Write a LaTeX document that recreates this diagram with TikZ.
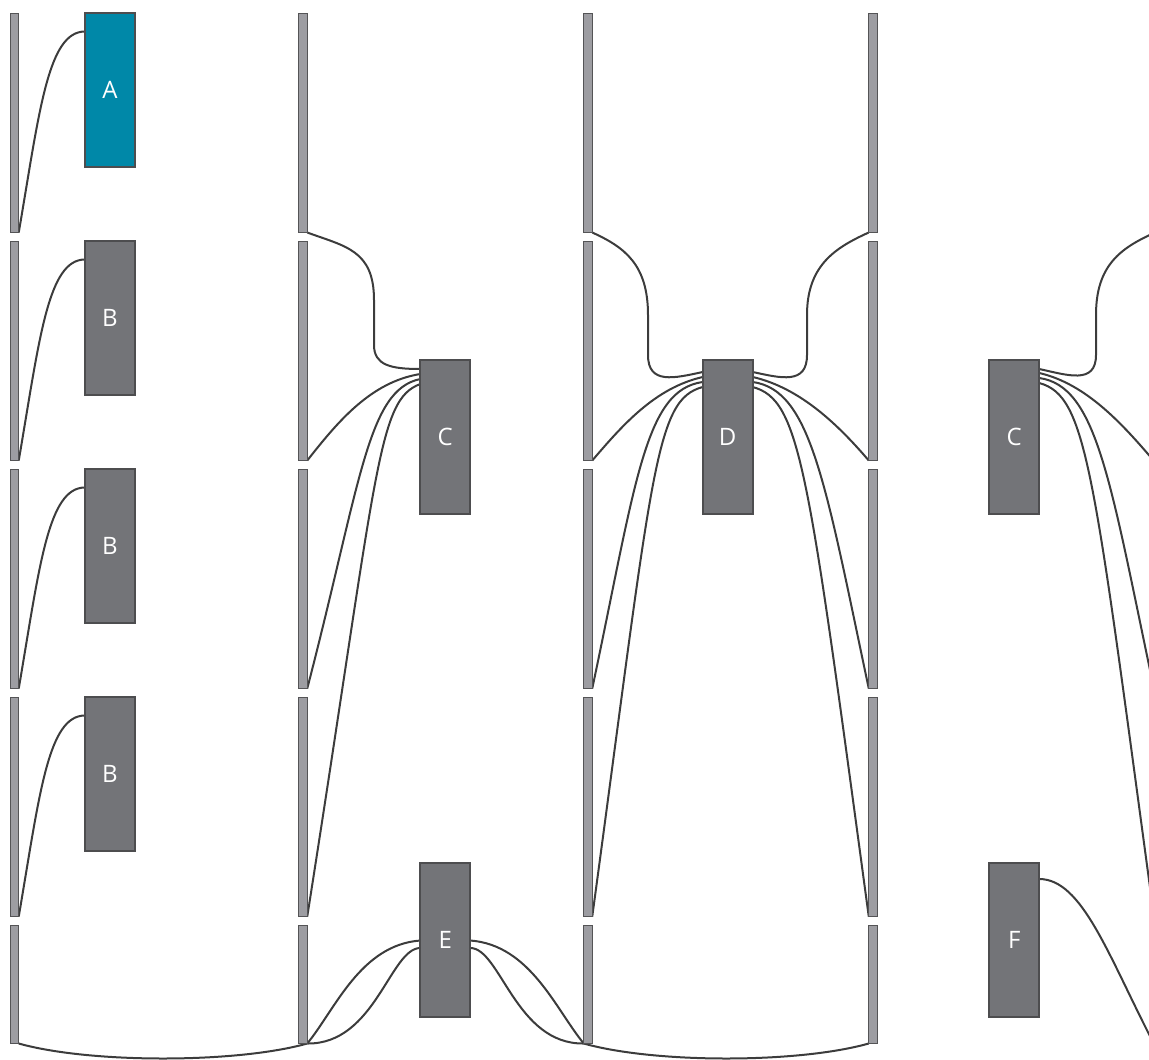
\documentclass[tikz,border=0pt]{standalone}
\usepackage{fontspec}
\setmainfont{Open Sans}
\pgfdeclarelayer{bg}
\pgfsetlayers{bg,main}
\definecolor{blockfill}{HTML}{737478}
\definecolor{blockline}{HTML}{4D4D4F}
\definecolor{accentA}{HTML}{0088A8}
\definecolor{barfill}{HTML}{9D9DA2}
\definecolor{barline}{HTML}{545456}
\definecolor{linkcol}{HTML}{3C3C3C}
\begin{document}
\begin{tikzpicture}[x=1pt,y=-1pt,
  bar/.style={draw=barline, fill=barfill, line width=1.3pt, minimum width=8.5pt, minimum height=219pt, inner sep=0pt, outer sep=0pt},
  lowbar/.style={bar, minimum height=118pt},
  blk/.style={draw=blockline, fill=blockfill, line width=2pt, minimum width=50pt, minimum height=154pt, inner sep=0pt, outer sep=0pt, text=white, font=\fontsize{24}{28}\selectfont},
  link/.style={draw=linkcol, line width=2pt}]
\useasboundingbox (0,0) rectangle (1149,1060);
\clip (0,0) rectangle (1149,1060);
% bars
\foreach \c/\x in {1/14.5, 2/303, 3/588, 4/873}{
  \node[bar] (b\c1) at (\x,123) {};
  \node[bar] (b\c2) at (\x,351) {};
  \node[bar] (b\c3) at (\x,579) {};
  \node[bar] (b\c4) at (\x,807) {};
  \node[lowbar] (b\c5) at (\x,984.5) {};
}
\coordinate (p51) at (1154,233);
\coordinate (p52) at (1154,461);
\coordinate (p53) at (1154,689);
\coordinate (p54) at (1154,917);
\coordinate (p55) at (1154,1044);
% blocks
\node[blk, fill=accentA] (A) at (110,89.5) {A};
\node[blk] (B1) at (110,317.5) {B};
\node[blk] (B2) at (110,545.5) {B};
\node[blk] (B3) at (110,773.5) {B};
\node[blk] (C) at (445.3,437) {C};
\node[blk] (D) at (727.7,437) {D};
\node[blk] (C2) at (1014.2,437) {C};
\node[blk] (E) at (445.3,939.5) {E};
\node[blk] (F) at (1014.2,939.5) {F};
\begin{pgfonlayer}{bg}
% column 1
\draw[link] (b11.south east) .. controls +(21,-123) and +(-37,0) .. ([yshift=58pt]A.west);
\draw[link] (b12.south east) .. controls +(21,-123) and +(-37,0) .. ([yshift=58pt]B1.west);
\draw[link] (b13.south east) .. controls +(21,-123) and +(-37,0) .. ([yshift=58pt]B2.west);
\draw[link] (b14.south east) .. controls +(21,-123) and +(-37,0) .. ([yshift=58pt]B3.west);
% bottom arcs
\draw[link] (b15.south east) .. controls +(71,20) and +(-71,20) .. (b25.south east);
\draw[link] (b35.south west) .. controls +(71,20) and +(-71,20) .. (b45.south west);
% C left
\draw[link] (b21.south east) .. controls +(38,14) and +(0,-50) .. (374,300) -- (374,345) .. controls +(0,20) and +(-30,0) .. ([yshift=68pt]C.west);
\draw[link] (b22.south east) .. controls +(30,-38) and +(-50,8) .. ([yshift=63pt]C.west);
\draw[link] (b23.south east) .. controls +(54,-208) and +(-53,11) .. ([yshift=58pt]C.west);
\draw[link] (b24.south east) .. controls +(71,-450) and +(-43,16) .. ([yshift=53pt]C.west);
% D left
\draw[link] (b31.south east) .. controls +(33,15) and +(0,-50) .. (648,315) -- (648,355) .. controls +(0,30) and +(-28,6) .. ([yshift=65pt]D.west);
\draw[link] (b32.south east) .. controls +(30,-35) and +(-48,11) .. ([yshift=60pt]D.west);
\draw[link] (b33.south east) .. controls +(44,-208) and +(-58,8) .. ([yshift=55pt]D.west);
\draw[link] (b34.south east) .. controls +(61,-450) and +(-48,13) .. ([yshift=50pt]D.west);
% D right
\draw[link] ([yshift=65pt]D.east) .. controls +(28,6) and +(0,30) .. (807,355) -- (807,315) .. controls +(0,-50) and +(-33,15) .. (b41.south west);
\draw[link] ([yshift=60pt]D.east) .. controls +(48,11) and +(-30,-35) .. (b42.south west);
\draw[link] ([yshift=55pt]D.east) .. controls +(58,8) and +(-44,-208) .. (b43.south west);
\draw[link] ([yshift=50pt]D.east) .. controls +(48,13) and +(-61,-450) .. (b44.south west);
% C2 right
\draw[link] ([yshift=68pt]C2.east) .. controls +(28,6) and +(0,30) .. (1096,355) -- (1096,315) .. controls +(0,-50) and +(-33,15) .. (p51);
\draw[link] ([yshift=64pt]C2.east) .. controls +(48,11) and +(-30,-35) .. (p52);
\draw[link] ([yshift=59pt]C2.east) .. controls +(58,8) and +(-44,-208) .. (p53);
\draw[link] ([yshift=54pt]C2.east) .. controls +(48,13) and +(-61,-450) .. (p54);
% E
\draw[link] (b25.south east) .. controls +(28,-34) and +(-60,4.5) .. ([yshift=-1pt]E.west);
\draw[link] (b25.south east) .. controls +(68,1) and +(-30,0) .. ([yshift=-8.5pt]E.west);
\draw[link] ([yshift=-1pt]E.east) .. controls +(60,4.5) and +(-28,-34) .. (b35.south west);
\draw[link] ([yshift=-8.5pt]E.east) .. controls +(30,0) and +(-68,1) .. (b35.south west);
% F
\draw[link] ([yshift=60.5pt]F.east) .. controls +(43,0) and +(-46,-89) .. (p55);
\end{pgfonlayer}
\end{tikzpicture}
\end{document}
